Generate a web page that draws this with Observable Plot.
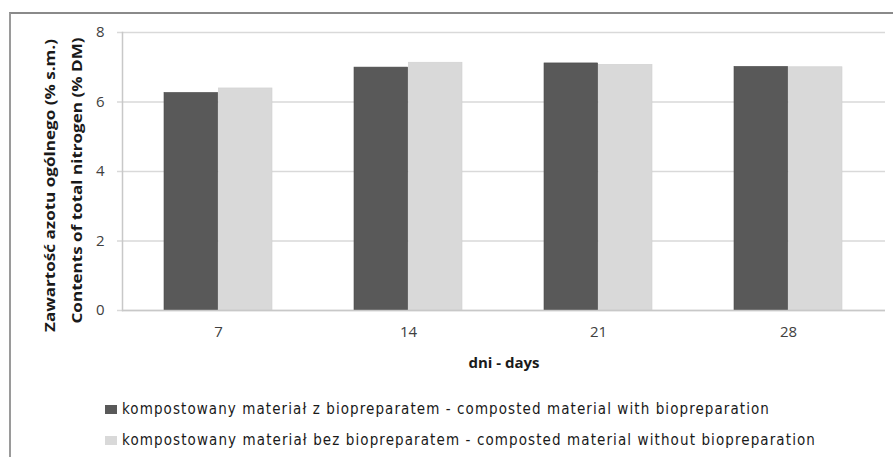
<!DOCTYPE html>
<html>
<head>
<meta charset="utf-8">
<script src="https://cdn.jsdelivr.net/npm/d3@7"></script>
<script src="https://cdn.jsdelivr.net/npm/@observablehq/plot@0.6"></script>
<style>
  html, body { margin: 0; padding: 0; background: #fff; }
  #wrap { position: relative; width: 893px; height: 457px; overflow: hidden; background: #fff; }
  #border { position: absolute; left: 9px; top: 12px; width: 900px; height: 460px;
            border-left: 2px solid #9a9a9a; border-top: 2px solid #8a8a8a; box-sizing: border-box; }
  #chart { position: absolute; left: 0; top: 0; }
  #chart svg { background: transparent !important; }
  #legend { position: absolute; left: 0; top: 390px; width: 893px; height: 67px;
            font-family: "DejaVu Sans Condensed", "Liberation Sans Narrow", sans-serif; font-size: 15px; color: #1a1a1a; }
  .item { position: absolute; left: 105px; white-space: nowrap; line-height: 15px; }
  .sw { position: absolute; left: 0; top: 3px; width: 12px; height: 9px; }
  .lab { position: absolute; left: 17px; top: 0; }
</style>
</head>
<body>
<div id="wrap">
  <div id="border"></div>
  <div id="chart"></div>
  <div id="legend"></div>
</div>
<script>
const days = ["7", "14", "21", "28"];
const seriesNames = [
  "kompostowany materiał z biopreparatem - composted material with biopreparation",
  "kompostowany materiał bez biopreparatem - composted material without biopreparation"
];
const withBio = [6.26, 6.99, 7.11, 7.01];
const withoutBio = [6.39, 7.13, 7.07, 7.00];
const yTicks = [0, 2, 4, 6, 8];
const yTitle1 = "Zawartość azotu ogólnego (% s.m.)";
const yTitle2 = "Contents of total nitrogen (% DM)";
const xTitle = "dni - days";
const colors = ["#595959", "#d9d9d9"];

const W = 893, H = 390, ML = 122, MR = 8, MT = 32, MB = 80;
const pi = 0.43, po = 0.215;
const step = (W - ML - MR) / (days.length - pi + 2 * po);
const half = step * (1 - pi) / 2;

const dataA = days.map((d, i) => ({day: d, value: withBio[i]}));
const dataB = days.map((d, i) => ({day: d, value: withoutBio[i]}));

const font = "'Open Sans', sans-serif";

const chart = Plot.plot({
  width: W, height: H,
  marginLeft: ML, marginRight: MR, marginTop: MT, marginBottom: MB,
  style: {fontFamily: font, fontSize: "14px", color: "#404040", background: "transparent"},
  x: {domain: days, paddingInner: pi, paddingOuter: po, label: null},
  y: {domain: [0, 8], ticks: yTicks, label: null},
  marks: [
    Plot.gridY(yTicks, {stroke: "#d9d9d9", strokeOpacity: 1, strokeWidth: 1.5, insetLeft: -5}),
    Plot.barY(dataA, {x: "day", y: "value", fill: colors[0], insetLeft: 0, insetRight: half, stroke: "#4a4a4a", strokeWidth: 0.6}),
    Plot.barY(dataB, {x: "day", y: "value", fill: colors[1], insetLeft: half, insetRight: 0, stroke: "#d0d0d0", strokeWidth: 0.6}),
    Plot.ruleY([0], {stroke: "#c8c8c8", strokeWidth: 1.5}),
    Plot.frame({anchor: "left", stroke: "#c8c8c8", strokeWidth: 1.5}),
    Plot.axisY(yTicks, {tickSize: 0, tickPadding: 18, fill: "#404040", fontSize: 15, label: null}),
    Plot.axisX({tickSize: 0, tickPadding: 16, fill: "#404040", fontSize: 15, label: null}),
    Plot.text([yTitle1], {frameAnchor: "left", textAnchor: "middle", lineAnchor: "middle", rotate: -90, dx: -72, dy: 14, fontWeight: "bold", fontSize: 15, fill: "#1a1a1a"}),
    Plot.text([yTitle2], {frameAnchor: "left", textAnchor: "middle", lineAnchor: "middle", rotate: -90, dx: -45, dy: 9, fontWeight: "bold", fontSize: 15, fill: "#1a1a1a"}),
    Plot.text([xTitle], {frameAnchor: "bottom", textAnchor: "middle", lineAnchor: "middle", dy: 53, fontWeight: "bold", fontSize: 15, fill: "#1a1a1a"})
  ]
});
document.getElementById("chart").appendChild(chart);

// fit title lengths to the reference
const fit = {[yTitle1]: 293, [yTitle2]: 286};
d3.select(chart).selectAll("text").each(function () {
  const t = this.textContent;
  if (fit[t]) d3.select(this).attr("textLength", fit[t]).attr("lengthAdjust", "spacingAndGlyphs");
});

const legend = document.getElementById("legend");
const targets = [648, 694];
seriesNames.forEach((name, i) => {
  const item = document.createElement("div");
  item.className = "item";
  item.style.top = (i === 0 ? 12 : 43) + "px";
  const sw = document.createElement("span");
  sw.className = "sw";
  sw.style.background = colors[i];
  const label = document.createElement("span");
  label.className = "lab";
  label.textContent = name;
  item.appendChild(sw);
  item.appendChild(label);
  legend.appendChild(item);
  const w = label.getBoundingClientRect().width;
  label.style.letterSpacing = ((targets[i] - w) / name.length) + "px";
});
</script>
</body>
</html>
